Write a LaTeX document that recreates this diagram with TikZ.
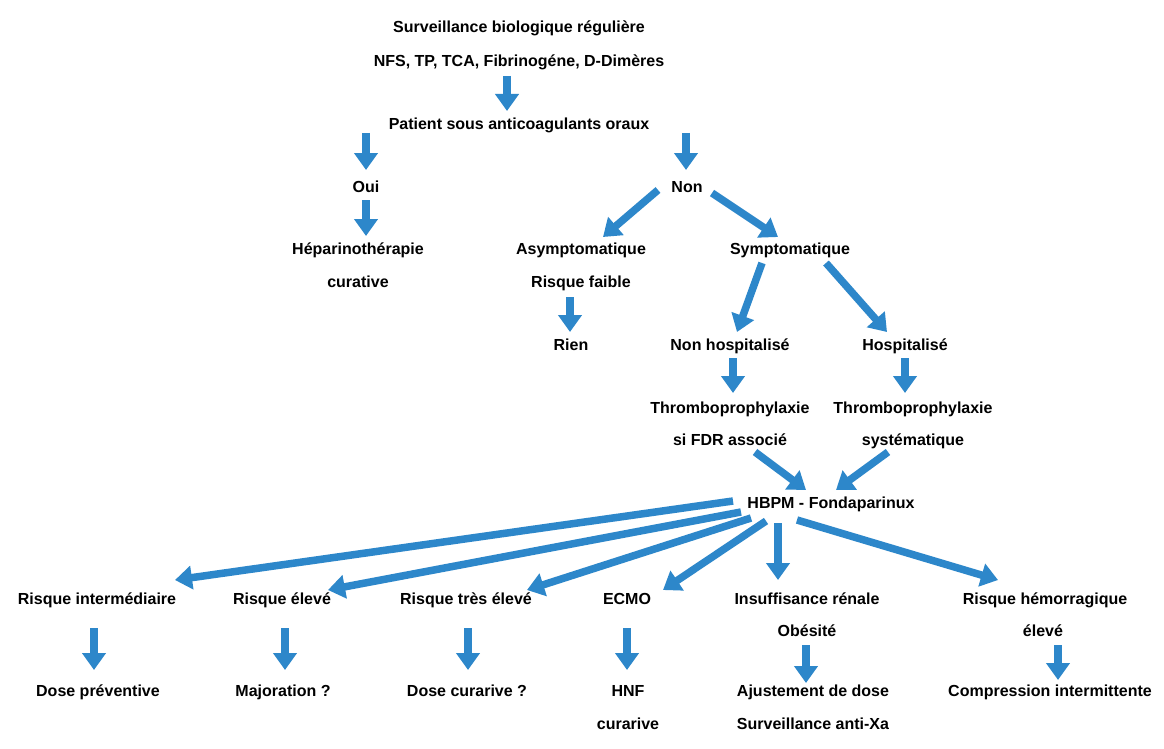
\documentclass[tikz,border=0pt]{standalone}
\usepackage{fontspec}
\setmainfont{Liberation Sans}
\usetikzlibrary{arrows.meta,calc}
\definecolor{arrblue}{HTML}{2D87CA}
\tikzset{
  lbl/.style={font=\fontsize{16}{19}\selectfont\bfseries, text height=12pt, text depth=3.5pt, inner sep=1.5pt},
  arr/.style={draw=arrblue, line width=7.5pt, -{Triangle[length=17pt,width=23pt]}}
}
\begin{document}
\begin{tikzpicture}[x=1pt,y=1pt]
\useasboundingbox[fill=white] (0,0) rectangle (1164,-749);
% nodes
\node[lbl] (surv) at (519,-28) {Surveillance biologique régulière};
\node[lbl] (nfs) at (519,-62) {NFS, TP, TCA, Fibrinogéne, D-Dimères};
\node[lbl] (patient) at (519,-125) {Patient sous anticoagulants oraux};
\node[lbl] (oui) at (366,-188) {Oui};
\node[lbl] (non) at (687,-188) {Non};
\node[lbl] (hepA) at (358,-250) {Héparinothérapie};
\node[lbl] (hepB) at (358,-283) {curative};
\node[lbl] (asymA) at (581,-250) {Asymptomatique};
\node[lbl] (asymB) at (581,-283) {Risque faible};
\node[lbl] (rien) at (571,-346) {Rien};
\node[lbl] (sympt) at (790,-250) {Symptomatique};
\node[lbl] (nonhosp) at (730,-346) {Non hospitalisé};
\node[lbl] (hosp) at (905,-346) {Hospitalisé};
\node[lbl] (thrA) at (730,-409) {Thromboprophylaxie};
\node[lbl] (thrB) at (730,-441) {si FDR associé};
\node[lbl] (thsA) at (913,-409) {Thromboprophylaxie};
\node[lbl] (thsB) at (913,-441) {systématique};
\node[lbl] (hbpm) at (831,-504) {HBPM - Fondaparinux};
\node[lbl] (r1) at (97,-600) {Risque intermédiaire};
\node[lbl] (r2) at (282,-600) {Risque élevé};
\node[lbl] (r3) at (466,-600) {Risque très élevé};
\node[lbl] (r4) at (627,-600) {ECMO};
\node[lbl] (r5A) at (807,-600) {Insuffisance rénale};
\node[lbl] (r5B) at (807,-632) {Obésité};
\node[lbl] (r6A) at (1045,-600) {Risque hémorragique};
\node[lbl] (r6B) at (1043,-632) {élevé};
\node[lbl] (d1) at (98,-692) {Dose préventive};
\node[lbl] (d2) at (283,-692) {Majoration ?};
\node[lbl] (d3) at (467,-692) {Dose curarive ?};
\node[lbl] (d4A) at (628,-692) {HNF};
\node[lbl] (d4B) at (628,-725) {curarive};
\node[lbl] (d5A) at (813,-692) {Ajustement de dose};
\node[lbl] (d5B) at (813,-725) {Surveillance anti-Xa};
\node[lbl] (d6) at (1050,-692) {Compression intermittente};
% arrows
\draw[arr] ($(nfs)+(-12,-14)$) -- ($(patient)+(-12,14)$);
\draw[arr] ($(patient)+(-153,-8)$) -- ($(oui)+(0,18)$);
\draw[arr] ($(patient)+(167,-8)$) -- ($(non)+(-1,18)$);
\draw[arr] ($(oui)+(0,-12)$) -- ($(hepA)+(8,14)$);
\draw[arr] ($(non)+(-29,-2)$) -- ($(asymA)+(22,13)$);
\draw[arr] ($(non)+(25,-5)$) -- ($(sympt)+(-12,13)$);
\draw[arr] ($(asymB)+(-11,-14)$) -- ($(rien)+(-1,14)$);
\draw[arr] ($(sympt)+(-28,-13)$) -- ($(nonhosp)+(7,14)$);
\draw[arr] ($(sympt)+(36,-13)$) -- ($(hosp)+(-18,14)$);
\draw[arr] ($(nonhosp)+(3,-12)$) -- ($(thrA)+(3,16)$);
\draw[arr] ($(hosp)+(0,-12)$) -- ($(thsA)+(-8,16)$);
\draw[arr] ($(thrB)+(25,-11)$) -- ($(hbpm)+(-25,14)$);
\draw[arr] ($(thsB)+(-25,-11)$) -- ($(hbpm)+(5,14)$);
\draw[arr] ($(hbpm)+(-98,3)$) -- ($(r1)+(78,20)$);
\draw[arr] ($(hbpm)+(-90,-8)$) -- ($(r2)+(46,10)$);
\draw[arr] ($(hbpm)+(-80,-14)$) -- ($(r3)+(61,10)$);
\draw[arr] ($(hbpm)+(-65,-17)$) -- ($(r4)+(36,10)$);
\draw[arr] ($(hbpm)+(-53,-19)$) -- ($(r5A)+(-29,20)$);
\draw[arr] ($(hbpm)+(-34,-16)$) -- ($(r6A)+(-47,20)$);
\draw[arr] ($(r1)+(-3,-28)$) -- ($(d1)+(-4,22)$);
\draw[arr] ($(r2)+(3,-28)$) -- ($(d2)+(2,22)$);
\draw[arr] ($(r3)+(2,-28)$) -- ($(d3)+(1,22)$);
\draw[arr] ($(r4)+(0,-28)$) -- ($(d4A)+(-1,22)$);
\draw[arr] ($(r5B)+(-1,-13)$) -- ($(d5A)+(-7,9)$);
\draw[arr] ($(r6B)+(15,-13)$) -- ($(d6)+(8,12)$);
\end{tikzpicture}
\end{document}
